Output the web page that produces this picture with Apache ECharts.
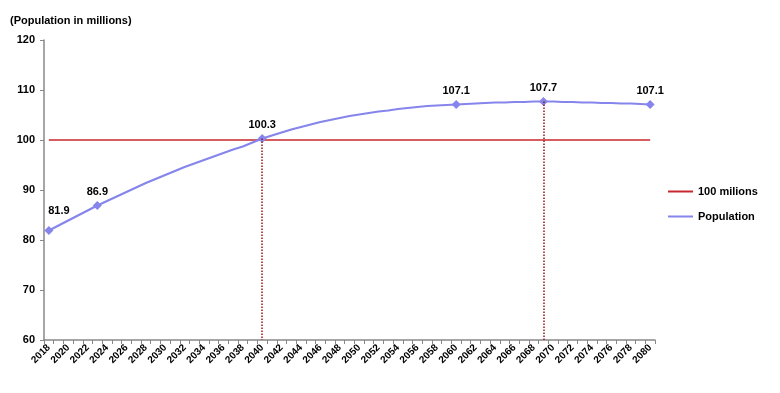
<!DOCTYPE html>
<html>
<head>
<meta charset="utf-8">
<script src="https://cdn.jsdelivr.net/npm/echarts@6/dist/echarts.min.js"></script>
<style>html,body{margin:0;padding:0;background:#fff}#c{width:780px;height:393px}</style>
</head>
<body>
<div id="c"></div>
<script>
var years = [];
for (var y = 2018; y <= 2080; y++) years.push(String(y));
var population = [
  81.9, 82.9, 83.9, 84.9, 85.9, 86.9, 87.8, 88.7, 89.6, 90.5,
  91.4, 92.2, 93.0, 93.8, 94.6, 95.3, 96.0, 96.7, 97.4, 98.1,
  98.7, 99.5, 100.3, 100.9, 101.5, 102.1, 102.6, 103.1, 103.6, 104.0,
  104.4, 104.8, 105.1, 105.4, 105.7, 105.9, 106.2, 106.4, 106.6, 106.8,
  106.9, 107.0, 107.1, 107.2, 107.3, 107.4, 107.5, 107.5, 107.6, 107.6,
  107.7, 107.7, 107.7, 107.6, 107.6, 107.5, 107.5, 107.4, 107.4, 107.3,
  107.3, 107.2, 107.1
];
var thresholdValue = 100;
var threshold = years.map(function () { return thresholdValue; });
var highlightYears = ['2018', '2023', '2040', '2060', '2069', '2080'];
var dropLineYears = ['2040', '2069'];
var yMin = 60, yMax = 120, yInterval = 10;

var FONT = '"Liberation Sans", Arial, sans-serif';

var popData = population.map(function (v, i) {
  var yr = years[i];
  if (highlightYears.indexOf(yr) >= 0) {
    return {
      value: v,
      symbol: 'diamond',
      symbolSize: 9,
      label: {
        show: true,
        position: 'top',
        distance: 4,
        offset: yr === '2018' ? [10, -6] : [0, 0],
        formatter: function (p) { return p.value.toFixed(1); }
      }
    };
  }
  return { value: v, symbol: 'none' };
});

var dropLines = dropLineYears.map(function (yr) {
  var idx = years.indexOf(yr);
  return [{ coord: [yr, population[idx]] }, { coord: [yr, yMin] }];
});

var chart = echarts.init(document.getElementById('c'));
chart.setOption({
  animation: false,
  backgroundColor: '#ffffff',
  textStyle: { fontFamily: FONT },
  title: {
    text: '(Population in millions)',
    left: 5, top: 10,
    textStyle: { fontFamily: FONT, fontSize: 11, fontWeight: 'bold', color: '#000' }
  },
  legend: {
    orient: 'vertical',
    left: 663, top: 181,
    itemGap: 14,
    itemWidth: 25, itemHeight: 2,
    icon: 'rect',
    textStyle: { fontFamily: FONT, fontSize: 11, fontWeight: 'bold', color: '#000' },
    data: ['100 milions', 'Population']
  },
  grid: { left: 44, right: 125, top: 40, bottom: 53, containLabel: false },
  xAxis: {
    type: 'category',
    data: years,
    boundaryGap: true,
    axisLine: { lineStyle: { color: '#888', width: 1.5 } },
    axisTick: { show: true, interval: 0, length: 4, lineStyle: { color: '#888' } },
    axisLabel: {
      interval: 1, rotate: 45, margin: 6,
      fontFamily: FONT, fontSize: 10, fontWeight: 'bold', color: '#000'
    },
    splitLine: { show: false }
  },
  yAxis: {
    type: 'value',
    min: yMin, max: yMax, interval: yInterval,
    axisLine: { show: true, lineStyle: { color: '#888', width: 1.5 } },
    axisTick: { show: true, length: 4, lineStyle: { color: '#888' } },
    axisLabel: { margin: 9, fontFamily: FONT, fontSize: 11, fontWeight: 'bold', color: '#000' },
    splitLine: { show: false }
  },
  series: [
    {
      name: '100 milions',
      type: 'line',
      data: threshold,
      symbol: 'none',
      showSymbol: false,
      color: '#c8282d',
      lineStyle: { color: '#c8282d', width: 1.5 },
      z: 2
    },
    {
      name: 'Population',
      type: 'line',
      data: popData,
      showAllSymbol: true,
      color: '#8585ec',
      itemStyle: { color: '#8585ec' },
      lineStyle: { color: '#8585ec', width: 2.2 },
      label: {
        fontFamily: FONT, fontSize: 11, fontWeight: 'bold', color: '#000'
      },
      markLine: {
        silent: true,
        symbol: ['none', 'none'],
        label: { show: false },
        lineStyle: { color: '#a0101a', type: 'dotted', width: 1.5 },
        data: dropLines
      },
      z: 3
    }
  ]
});
</script>
</body>
</html>
